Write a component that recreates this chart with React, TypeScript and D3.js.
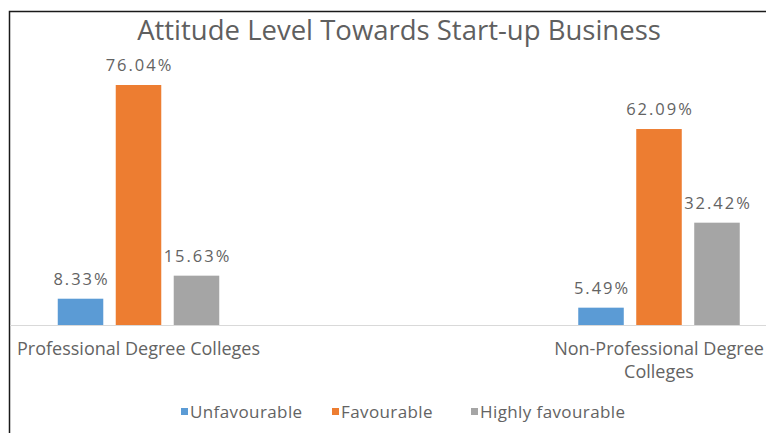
import React from "react";
import * as d3 from "d3";

const title = "Attitude Level Towards Start-up Business";
const categories = ["Professional Degree Colleges", "Non-Professional Degree Colleges"];
const categoryLines = [["Professional Degree Colleges"], ["Non-Professional Degree", "Colleges"]];
const series = ["Unfavourable", "Favourable", "Highly favourable"];
const colors = ["#5B9BD5", "#ED7D31", "#A5A5A5"];
const unfavourable = [8.33, 5.49];
const favourable = [76.04, 62.09];
const highlyFavourable = [15.63, 32.42];
const seriesValues = [unfavourable, favourable, highlyFavourable];

const W = 766;
const H = 433;
const FONT = "'Open Sans', 'Noto Sans', sans-serif";
const TEXT = "#636363";

export default function App() {
  const baseY = 325;
  const y = d3.scaleLinear().domain([0, 76.04]).range([baseY, 85]);
  const x = d3.scalePoint<string>().domain(categories).range([138.5, 659]);
  const inner = d3
    .scaleBand<string>()
    .domain(series)
    .range([-80.75, 80.75])
    .paddingInner(0.215)
    .paddingOuter(0);

  const legendX = [181, 332, 471];

  return (
    <svg
      width={W}
      height={H}
      style={{ position: "absolute", left: 0, top: 0, background: "#fff" }}
      fontFamily={FONT}
    >
      <rect x={0} y={0} width={W} height={H} fill="#fff" />
      <path d={`M9.5,${H} L9.5,11.5 L${W},11.5`} fill="none" stroke="#1a1a1a" strokeWidth={1.5} />
      <text x={399} y={40} textAnchor="middle" fontSize={27.5} fill="#5f5f5f">
        {title}
      </text>
      <line x1={10} x2={W} y1={baseY + 0.5} y2={baseY + 0.5} stroke="#D9D9D9" strokeWidth={1} />
      {categories.map((c, ci) => (
        <g key={c} transform={`translate(${x(c)},0)`}>
          {series.map((s, si) => {
            const v = seriesValues[si][ci];
            const bx = inner(s)!;
            const bw = inner.bandwidth();
            return (
              <g key={s}>
                <rect x={bx} y={y(v)} width={bw} height={baseY - y(v)} fill={colors[si]} />
                <text
                  x={bx + bw / 2 + 1}
                  y={y(v) - 14}
                  textAnchor="middle"
                  fontSize={16.5}
                  letterSpacing={2}
                  fill={TEXT}
                >
                  {v.toFixed(2)}%
                </text>
              </g>
            );
          })}
          {categoryLines[ci].map((line, li) => (
            <text
              key={li}
              x={0}
              y={355 + li * 23}
              textAnchor="middle"
              fontSize={18}
              fill={TEXT}
            >
              {line}
            </text>
          ))}
        </g>
      ))}
      {series.map((s, si) => (
        <g key={s} transform={`translate(${legendX[si]},412)`}>
          <rect x={0} y={-4} width={7} height={7} fill={colors[si]} />
          <text x={9} y={6} fontSize={17} letterSpacing={0.4} fill={TEXT}>
            {s}
          </text>
        </g>
      ))}
    </svg>
  );
}
